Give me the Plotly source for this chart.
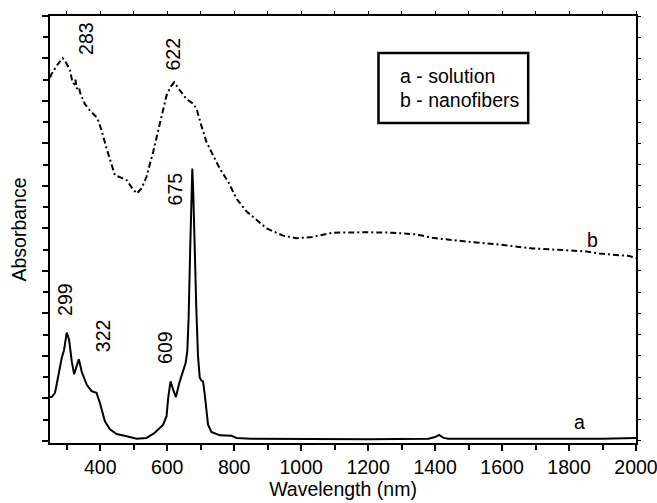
import plotly.graph_objects as go

# Curve a: solution
a_wl = [250, 255, 265, 275, 285, 292, 300, 307, 315, 322, 330, 336, 345, 360, 374, 389, 399, 414, 429, 449,
        479, 509, 538, 563, 588, 598, 603, 610, 618, 626, 636, 646, 655, 660, 664, 668, 672, 675, 678, 682,
        687, 692, 697, 702, 707, 712, 717, 722, 732, 757, 792, 807, 850, 1000, 1200, 1380, 1400, 1412, 1425,
        1440, 1600, 1700, 1800, 1900, 2000]
a_abs = [1.03, 1.03, 1.13, 1.56, 1.95, 2.14, 2.55, 2.38, 1.87, 1.57, 1.79, 1.92, 1.62, 1.32, 1.17, 1.13, 0.89,
         0.46, 0.27, 0.16, 0.11, 0.05, 0.07, 0.19, 0.38, 0.58, 1.01, 1.40, 1.20, 1.03, 1.36, 1.64, 1.83, 2.11,
         2.9, 4.3, 5.6, 6.41, 5.8, 4.4, 3.1, 2.0, 1.5, 1.42, 1.40, 1.1, 0.7, 0.38, 0.21, 0.13, 0.12, 0.07, 0.05,
         0.04, 0.04, 0.05, 0.09, 0.14, 0.07, 0.05, 0.05, 0.06, 0.06, 0.05, 0.07]

# Curve b: nanofibers
b_wl = [250, 255, 270, 288, 298, 310, 317, 322, 326, 330, 336, 341, 354, 369, 391, 404, 419, 434, 444, 464,
        480, 494, 509, 523, 538, 558, 578, 598, 610, 621, 638, 658, 679, 689, 702, 717, 737, 757, 782, 807,
        837, 870, 897, 946, 986, 1034, 1095, 1194, 1273, 1343, 1392, 1493, 1591, 1690, 1790, 1851, 1890,
        1980, 2000]
b_abs = [8.55, 8.64, 8.83, 9.01, 8.90, 8.72, 8.44, 8.40, 8.50, 8.29, 8.33, 8.17, 7.93, 7.78, 7.60, 7.31, 6.88,
         6.49, 6.25, 6.19, 6.13, 5.96, 5.82, 5.94, 6.21, 6.80, 7.50, 8.13, 8.33, 8.44, 8.25, 8.04, 7.93, 7.78,
         7.42, 7.04, 6.72, 6.41, 6.10, 5.70, 5.40, 5.18, 5.0, 4.83, 4.77, 4.80, 4.90, 4.91, 4.90, 4.86, 4.78,
         4.69, 4.62, 4.53, 4.49, 4.46, 4.41, 4.35, 4.30]

x_ticks = [400, 600, 800, 1000, 1200, 1400, 1600, 1800, 2000]

peak_labels = ["283", "622", "675", "299", "322", "609"]
peak_x = [357, 618, 623, 295, 409, 595]
peak_y = [9.48, 9.10, 5.94, 3.32, 2.47, 2.20]

legend_lines = ["a - solution", "b - nanofibers"]

FONT = "Liberation Sans, Arial, sans-serif"
FS = 19.5

fig = go.Figure()
fig.add_trace(go.Scatter(x=a_wl, y=a_abs, mode="lines", line=dict(color="black", width=2),
                         showlegend=False, hoverinfo="skip"))
fig.add_trace(go.Scatter(x=b_wl, y=b_abs, mode="lines",
                         line=dict(color="black", width=2, dash="6px,3px,2px,3px"),
                         showlegend=False, hoverinfo="skip"))

for t, x, y in zip(peak_labels, peak_x, peak_y):
    fig.add_annotation(x=x, y=y, text=t, textangle=-90, showarrow=False,
                       font=dict(size=FS, color="black", family=FONT))

fig.add_annotation(x=1870, y=4.73, text="b", showarrow=False, font=dict(size=FS, color="black", family=FONT))
fig.add_annotation(x=1830, y=0.45, text="a", showarrow=False, font=dict(size=FS, color="black", family=FONT))

# legend box
fig.add_shape(type="rect", x0=1231, x1=1678, y0=7.48, y1=9.13, line=dict(color="black", width=2.5))
for txt, yy in zip(legend_lines, [8.59, 8.02]):
    fig.add_annotation(x=1288, y=yy, text=txt, showarrow=False, xanchor="left",
                       font=dict(size=FS, color="black", family=FONT))

fig.update_layout(
    width=657, height=503,
    margin=dict(l=50, r=21, t=16, b=60),
    plot_bgcolor="white", paper_bgcolor="white",
    font=dict(family=FONT, size=FS, color="black"),
    xaxis=dict(range=[250, 2000], tickvals=x_ticks, ticks="outside", ticklen=6, tickwidth=1.5,
               tickcolor="black", showline=True, linecolor="black", linewidth=2, showgrid=False,
               zeroline=False, automargin=False, ticklabeloverflow="allow",
               minor=dict(dtick=100, tick0=0, ticks="outside", ticklen=5, tickwidth=1.5,
                          tickcolor="black", showgrid=False),
               title=dict(text="Wavelength (nm)", standoff=0, font=dict(size=FS)),
               tickfont=dict(size=FS)),
    yaxis=dict(range=[-0.05, 10.0], dtick=1, tick0=0, ticks="outside", ticklen=6, tickwidth=1.5,
               tickcolor="black", showticklabels=False, showline=True, linecolor="black", linewidth=2,
               showgrid=False, zeroline=False, automargin=False,
               minor=dict(dtick=0.5, tick0=0, ticks="outside", ticklen=5, tickwidth=1.5,
                          tickcolor="black", showgrid=False),
               title=dict(text="Absorbance", standoff=10, font=dict(size=FS))),
    xaxis2=dict(overlaying="x", side="top", range=[250, 2000], dtick=100, tick0=0, ticks="outside",
                ticklen=3, tickwidth=1, tickcolor="black", showticklabels=False, showline=True,
                linecolor="black", linewidth=2, showgrid=False, zeroline=False, automargin=False),
    yaxis2=dict(overlaying="y", side="right", range=[-0.05, 10.0], dtick=0.5, tick0=0, ticks="outside",
                ticklen=3, tickwidth=1, tickcolor="black", showticklabels=False, showline=True,
                linecolor="black", linewidth=2, showgrid=False, zeroline=False, automargin=False),
)
# invisible trace to activate the mirror axes
fig.add_trace(go.Scatter(x=[250], y=[0], xaxis="x2", yaxis="y2", mode="markers",
                         marker=dict(opacity=0), showlegend=False, hoverinfo="skip"))

fig.write_html("out.html", config={"displayModeBar": False},
               post_script="document.body.style.margin='0';document.body.style.padding='0';")
